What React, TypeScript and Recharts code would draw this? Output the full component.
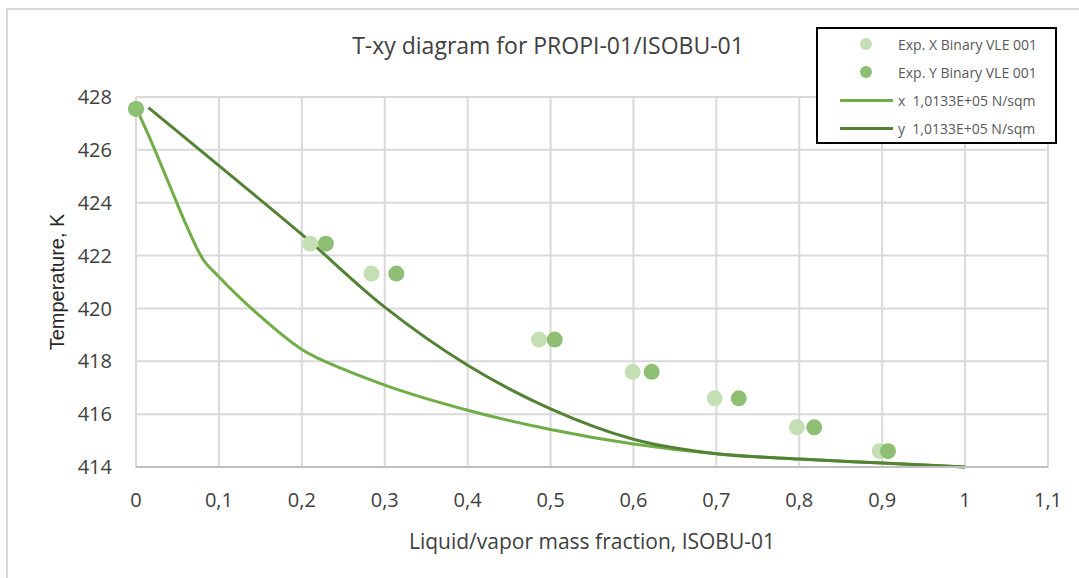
import {
	ComposedChart,
	Line,
	Scatter,
	XAxis,
	YAxis,
	CartesianGrid,
} from 'recharts'

// experimental points (liquid x / vapor y, temperature K)
const expX = [0, 0.21, 0.284, 0.486, 0.599, 0.698, 0.797, 0.897]
const expXT = [427.55, 422.45, 421.32, 418.82, 417.6, 416.6, 415.5, 414.6]
const expY = [0, 0.229, 0.314, 0.505, 0.622, 0.727, 0.818, 0.907]
const expYT = [427.55, 422.45, 421.32, 418.82, 417.6, 416.6, 415.5, 414.6]

// calculated curves at 1,0133E+05 N/sqm
const curveXFrac = [0, 0.02, 0.04, 0.06, 0.08, 0.1, 0.15, 0.2, 0.25, 0.3, 0.4, 0.5, 0.6, 0.7, 0.8, 0.9, 1]
const curveXT = [427.6, 426.2, 424.7, 423.2, 421.9, 421.2, 419.7, 418.45, 417.7, 417.1, 416.15, 415.42, 414.87, 414.5, 414.3, 414.15, 414]
const curveYFrac = [0.015, 0.1, 0.2, 0.3, 0.4, 0.5, 0.6, 0.7, 0.8, 0.9, 1]
const curveYT = [427.6, 425.4, 422.8, 420.05, 417.85, 416.2, 415.05, 414.5, 414.3, 414.15, 414]

const xTicks = [0, 0.1, 0.2, 0.3, 0.4, 0.5, 0.6, 0.7, 0.8, 0.9, 1, 1.1]
const yTicks = [414, 416, 418, 420, 422, 424, 426, 428]

const zip = (xs: number[], ys: number[]) => xs.map((x, i) => ({ x, y: ys[i] }))

const series = [
	{ name: 'Exp. X Binary VLE 001', kind: 'dot', color: '#c5dfb5' },
	{ name: 'Exp. Y Binary VLE 001', kind: 'dot', color: '#8fbf74' },
	{ name: 'x  1,0133E+05 N/sqm', kind: 'line', color: '#70ad47' },
	{ name: 'y  1,0133E+05 N/sqm', kind: 'line', color: '#548235' },
]

const font = '"Open Sans", sans-serif'

const LegendBox = () => (
	<div
		style={{
			position: 'absolute',
			left: 816,
			top: 27,
			border: '2px solid #000',
			background: '#fff',
			width: 241,
			height: 117,
			boxSizing: 'border-box',
			paddingTop: 1,
			fontFamily: font,
			fontSize: 14,
			color: '#595959',
			whiteSpace: 'pre',
		}}
	>
		{series.map((s) => (
			<div key={s.name} style={{ display: 'flex', alignItems: 'center', height: 28 }}>
				<div style={{ position: 'relative', width: 80, height: 28 }}>
					{s.kind === 'dot' ? (
						<div
							style={{
								position: 'absolute',
								left: 42,
								top: 8,
								width: 12,
								height: 12,
								borderRadius: 6,
								background: s.color,
							}}
						/>
					) : (
						<div
							style={{
								position: 'absolute',
								left: 22,
								top: 13,
								width: 53,
								height: 3,
								background: s.color,
							}}
						/>
					)}
				</div>
				<div>{s.name}</div>
			</div>
		))}
	</div>
)

const dot = (color: string) => (props: any) => (
	<circle cx={props.cx} cy={props.cy} r={8} fill={color} />
)

const App = () => {
	return (
		<div style={{ position: 'fixed', left: 0, top: 0, width: 1079, height: 578, background: '#fff' }}>
			<div
				style={{
					position: 'absolute',
					left: 6,
					top: 8,
					right: 0,
					bottom: 0,
					borderTop: '2px solid #d9d9d9',
					borderLeft: '2px solid #d9d9d9',
				}}
			/>
			<div
				style={{
					position: 'absolute',
					left: 0,
					width: 1096,
					top: 29,
					textAlign: 'center',
					fontFamily: font,
					fontSize: 23,
					color: '#404040',
				}}
			>
				T-xy diagram for PROPI-01/ISOBU-01
			</div>
			<ComposedChart
				width={1079}
				height={578}
				margin={{ top: 97, right: 31, bottom: 71, left: 36 }}
				style={{ position: 'absolute', left: 0, top: 0, fontFamily: font }}
			>
				<CartesianGrid stroke='#d9d9d9' strokeWidth={2} />
				<XAxis
					type='number'
					dataKey='x'
					domain={[0, 1.1]}
					ticks={xTicks}
					interval={0}
					allowDuplicatedCategory={false}
					tickFormatter={(v: number) => String(+v.toFixed(1)).replace('.', ',')}
					tick={{ fill: '#404040', fontSize: 20 }}
					tickLine={false}
					tickMargin={20}
					stroke='#bfbfbf'
					strokeWidth={2}
					height={40}
					label={{
						value: 'Liquid/vapor mass fraction, ISOBU-01',
						position: 'bottom',
						offset: 27,
						fill: '#404040',
						fontSize: 21,
					}}
				/>
				<YAxis
					type='number'
					domain={[414, 428]}
					ticks={yTicks}
					interval={0}
					tick={{ fill: '#404040', fontSize: 20 }}
					tickLine={false}
					axisLine={false}
					tickMargin={18}
					width={100}
					label={{
						value: 'Temperature, K',
						angle: -90,
						position: 'insideLeft',
						offset: 21,
						fill: '#262626',
						fontSize: 20,
						style: { textAnchor: 'middle', fontFamily: '"Liberation Sans", Arial, sans-serif' },
					}}
				/>
				<Line
					data={zip(curveXFrac, curveXT)}
					dataKey='y'
					type='monotone'
					stroke='#70ad47'
					strokeWidth={3}
					dot={false}
					activeDot={false}
					isAnimationActive={false}
				/>
				<Line
					data={zip(curveYFrac, curveYT)}
					dataKey='y'
					type='monotone'
					stroke='#548235'
					strokeWidth={3}
					dot={false}
					activeDot={false}
					isAnimationActive={false}
				/>
				<Scatter
					data={zip(expX, expXT)}
					dataKey='y'
					shape={dot('#c5dfb5')}
					isAnimationActive={false}
				/>
				<Scatter
					data={zip(expY, expYT)}
					dataKey='y'
					shape={dot('#8fbf74')}
					isAnimationActive={false}
				/>
			</ComposedChart>
			<LegendBox />
		</div>
	)
}

export default App
